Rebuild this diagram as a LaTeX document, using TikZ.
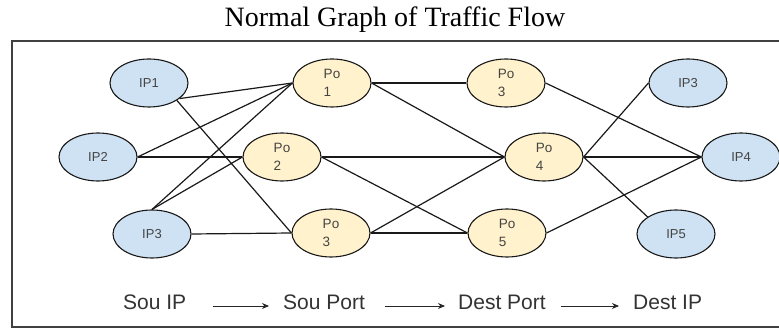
\documentclass[tikz,border=0pt]{standalone}
\usepackage{fontspec}
\setmainfont{Liberation Serif}
\setsansfont{Liberation Sans}
\usetikzlibrary{shapes.geometric,arrows.meta}
\definecolor{ipblue}{HTML}{CFE2F3}
\definecolor{poyel}{HTML}{FFF2CC}
\definecolor{txtgray}{HTML}{444444}
\tikzset{
  ipnode/.style={ellipse,draw=black!90,line width=1.1pt,fill=ipblue,minimum width=78pt,minimum height=48pt,inner sep=0pt,font=\sffamily\fontsize{13}{15}\selectfont,text=txtgray},
  ponode/.style={ellipse,draw=black!90,line width=1.1pt,fill=poyel,minimum width=78pt,minimum height=48pt,inner sep=0pt,align=left,font=\sffamily\fontsize{13.5}{18}\selectfont,text=txtgray},
  edge/.style={line width=1.2pt,black!90},
  flowlabel/.style={anchor=base west,inner sep=0pt,font=\sffamily\fontsize{21}{24}\selectfont,text=black!80},
  flowarrow/.style={line width=0.9pt,black!85,-{Stealth[length=7pt,width=6pt]}}
}
\begin{document}
\begin{tikzpicture}[x=1pt,y=-1pt]
\useasboundingbox (0,0) rectangle (779,328);
\clip (0,0) rectangle (779,328);
\node[anchor=base,inner sep=0pt,font=\fontsize{28}{32}\selectfont] (title) at (395,27) {Normal Graph of Traffic Flow};
\draw[line width=1.3pt,black!75] (12,41) rectangle (790,327);
\node[ipnode] (ip1) at (149,83) {IP1};
\node[ipnode] (ip2) at (98,157) {IP2};
\node[ipnode] (ip3) at (152,234) {IP3};
\node[ponode] (sp1) at (332,83) {Po\\1};
\node[ponode] (sp2) at (282,157) {Po\\2};
\node[ponode] (sp3) at (331,233) {Po\\3};
\node[ponode] (dp3) at (506,83) {Po\\3};
\node[ponode] (dp4) at (544,157) {Po\\4};
\node[ponode] (dp5) at (507,233) {Po\\5};
\node[ipnode] (dip3) at (688,83) {IP3};
\node[ipnode] (dip4) at (741,157) {IP4};
\node[ipnode] (dip5) at (676,234) {IP5};
% left edges
\draw[edge] (ip1.-27) -- (sp1.west);
\draw[edge] (ip1.-32) -- (sp3.west);
\draw[edge] (ip2.east) -- (sp1.west);
\draw[edge] (ip2.east) -- (sp2.west);
\draw[edge] (ip3.north) -- (sp1.west);
\draw[edge] (ip3.north) -- (sp2.west);
\draw[edge] (ip3.east) -- (sp3.west);
% middle edges
\draw[edge] (sp1.east) -- (dp3.west);
\draw[edge] (sp1.east) -- (dp4.west);
\draw[edge] (sp2.east) -- (dp4.west);
\draw[edge] (sp2.east) -- (dp5.west);
\draw[edge] (sp3.east) -- (dp4.west);
\draw[edge] (sp3.east) -- (dp5.west);
% right edges
\draw[edge] (dp3.east) -- (dip4.west);
\draw[edge] (dp4.east) -- (dip3.west);
\draw[edge] (dp4.east) -- (dip4.west);
\draw[edge] (dp4.east) -- (dip5.149);
\draw[edge] (dp5.east) -- (dip4.west);
% bottom flow labels
\node[flowlabel] (l1) at (123,310) {Sou IP};
\node[flowlabel] (l2) at (283,310) {Sou Port};
\node[flowlabel] (l3) at (458,310) {Dest Port};
\node[flowlabel] (l4) at (633,310) {Dest IP};
\draw[flowarrow] ([xshift=27pt,yshift=4pt]l1.base east) -- ([xshift=-14pt,yshift=4pt]l2.base west);
\draw[flowarrow] ([xshift=20pt,yshift=4pt]l2.base east) -- ([xshift=-13pt,yshift=4pt]l3.base west);
\draw[flowarrow] ([xshift=15pt,yshift=4pt]l3.base east) -- ([xshift=-14pt,yshift=4pt]l4.base west);
\end{tikzpicture}
\end{document}
